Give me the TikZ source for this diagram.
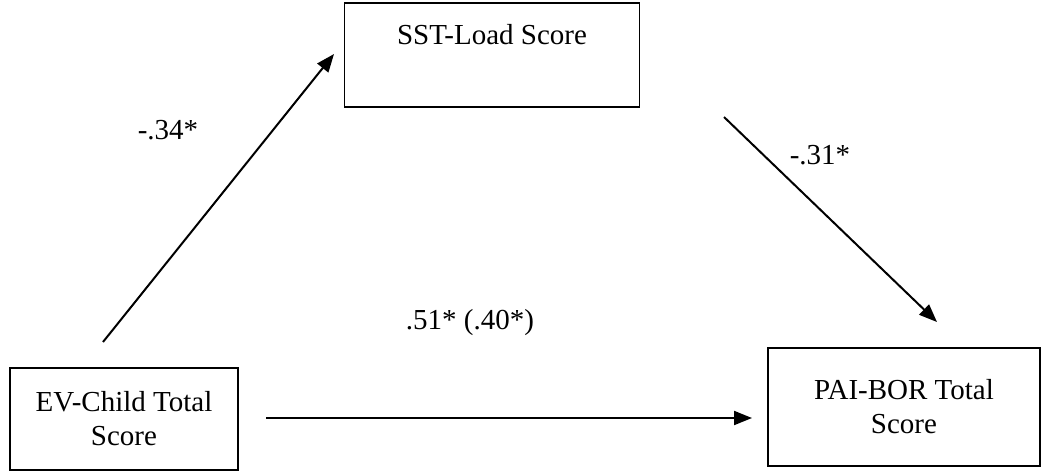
\documentclass[tikz,border=0pt]{standalone}
\usepackage{fontspec}
\setmainfont{Liberation Serif}
\usetikzlibrary{arrows.meta}
\tikzset{
    scorebox/.style={draw, line width=1.6pt, align=center, inner sep=0pt},
    effect/.style={->, line width=2pt},
    coef/.style={inner sep=0pt}
}
\begin{document}
\begin{tikzpicture}[x=1pt, y=-1pt, line join=miter, >={Triangle[length=18pt,width=14pt]},
        font=\fontsize{29}{34}\selectfont]
    \useasboundingbox (0,0) rectangle (1050,472);
    \path
    (492,55) coordinate (S)
    (124,419) coordinate (E)
    (904,407) coordinate (P)
    (103,342) coordinate (E1)
    (334,54) coordinate (S1)
    (724,117) coordinate (S2)
    (937,322) coordinate (P2)
    (266,418) coordinate (E3)
    (752,418) coordinate (P3)
    ;
    \node[scorebox, minimum width=295pt, minimum height=104pt] (sst) at (S) {SST-Load Score\\[8pt] ~};
    \node[scorebox, minimum width=228pt, minimum height=102pt] (ev) at (E) {EV-Child Total\\Score};
    \node[scorebox, minimum width=272pt, minimum height=118pt] (pai) at (P) {PAI-BOR Total\\Score};

    \draw[effect] (E1) -- (S1);
    \draw[effect] (S2) -- (P2);
    \draw[effect] (E3) -- (P3);

    \foreach \name/\pos/\txt in {a/{(168,130)}/{-.34*}, b/{(820,155)}/{-.31*}, c/{(470,323)}/{.51* (.40*)}}{
        \node[coef] (\name) at \pos {\txt};
    }
\end{tikzpicture}
\end{document}
